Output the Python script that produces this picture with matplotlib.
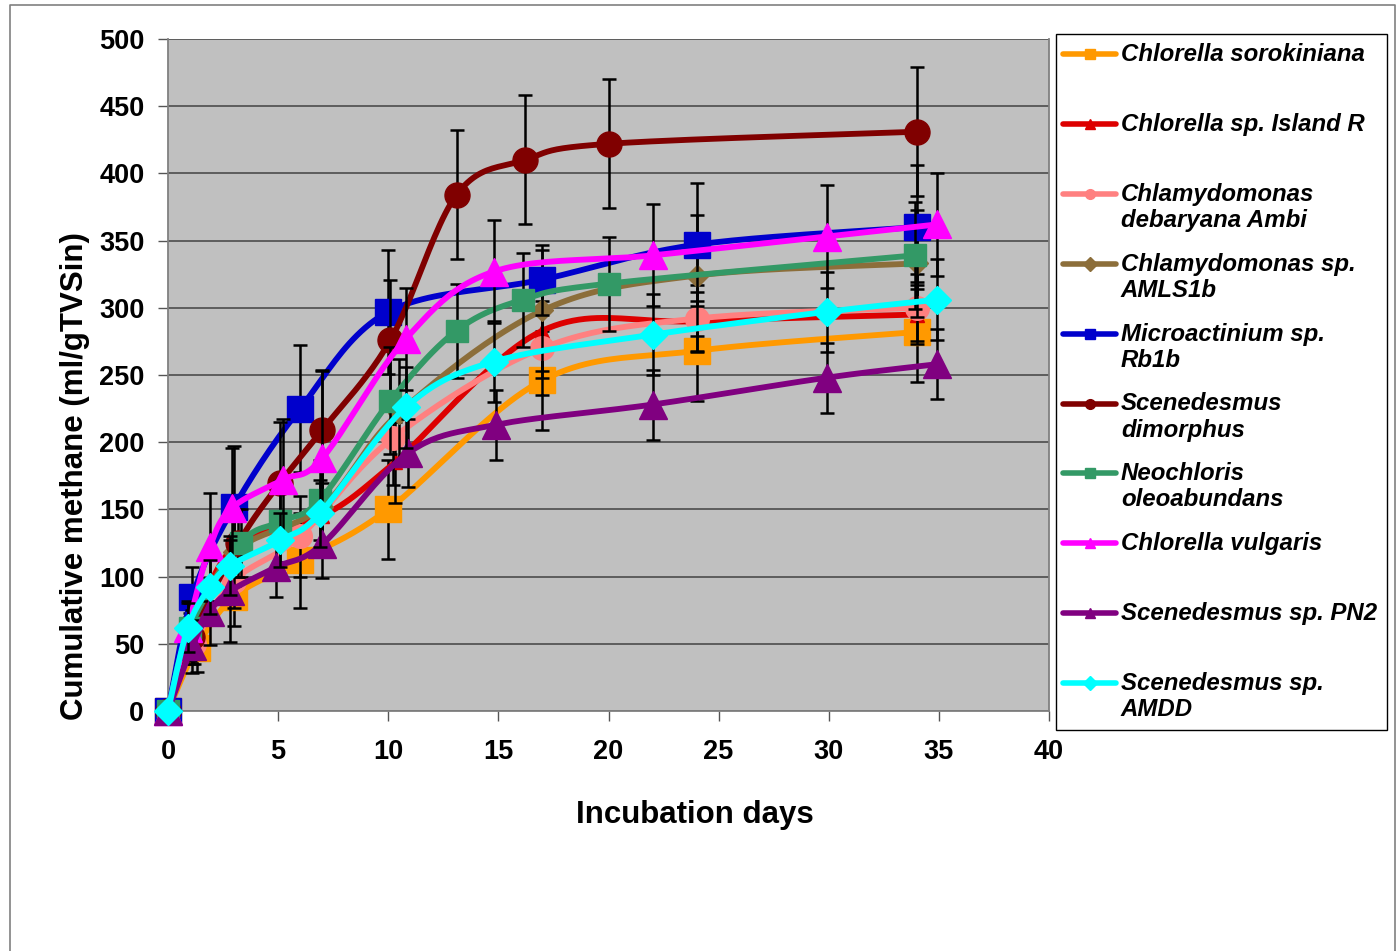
import numpy as np
import matplotlib
matplotlib.use("Agg")
from matplotlib import pyplot as plt
from matplotlib.lines import Line2D
from matplotlib.patches import Rectangle

plt.rcParams['font.family'] = ['Liberation Sans', 'DejaVu Sans']

# --- data ---
labels = ['Chlorella sorokiniana', 'Chlorella sp. Island R', 'Chlamydomonas\ndebaryana Ambi',
          'Chlamydomonas sp.\nAMLS1b', 'Microactinium sp.\nRb1b', 'Scenedesmus\ndimorphus',
          'Neochloris\noleoabundans', 'Chlorella vulgaris', 'Scenedesmus sp. PN2',
          'Scenedesmus sp.\nAMDD']
colors = ['#FF9900', '#DD0000', '#FF8080', '#8C6E3A', '#0000CC', '#800000',
          '#339966', '#FF00FF', '#800080', '#00FFFF']
markers = ['s', '^', 'o', 'D', 's', 'o', 's', '^', '^', 'D']
msizes = [19, 10, 17, 11, 19, 18, 16, 20, 20, 14]

sorok_days = [0, 1.3, 3, 6, 10, 17, 24, 34]
sorok_vals = [0, 47, 85, 112, 150, 246, 268, 282]
sorok_err = [0, 18, 22, 35, 37, 37, 37, 37]

island_days = [0, 1, 3, 7, 10.3, 17, 24, 34]
island_vals = [0, 55, 122, 145, 185, 283, 290, 295]
island_err = [0, 15, 20, 25, 30, 35, 22, 22]

debar_days = [0, 1.2, 3, 6, 10.2, 17, 24, 34]
debar_vals = [0, 50, 97, 130, 203, 270, 292, 300]
debar_err = [0, 15, 20, 30, 35, 35, 25, 25]

amls_days = [0, 1, 3, 7, 10.5, 17, 24, 34]
amls_vals = [0, 55, 118, 152, 222, 298, 324, 333]
amls_err = [0, 18, 25, 30, 40, 45, 45, 40]

micro_days = [0, 1.1, 3, 6, 10, 17, 24, 34]
micro_vals = [0, 85, 152, 225, 297, 321, 347, 360]
micro_err = [0, 22, 45, 47, 46, 26, 46, 46]

dimor_days = [0, 1.1, 3.2, 5.1, 7, 10.1, 13.1, 16.2, 20, 34]
dimor_vals = [0, 55, 125, 170, 209, 276, 384, 410, 422, 431]
dimor_err = [0, 20, 25, 45, 45, 45, 48, 48, 48, 48]

neo_days = [0, 1, 3.3, 5.1, 6.9, 10.1, 13.1, 16.1, 20, 33.9]
neo_vals = [0, 62, 125, 141, 157, 231, 283, 306, 318, 339]
neo_err = [0, 18, 25, 30, 30, 40, 35, 35, 35, 40]

vulg_days = [0, 0.9, 1.9, 2.9, 5.2, 7, 10.8, 14.8, 22, 29.9, 34.9]
vulg_vals = [0, 62, 122, 151, 172, 188, 277, 327, 339, 353, 362]
vulg_err = [0, 20, 40, 45, 45, 65, 38, 38, 38, 38, 38]

pn2_days = [0, 1.1, 1.9, 2.8, 4.9, 7, 10.9, 14.9, 22, 29.9, 34.9]
pn2_vals = [0, 48, 74, 89, 107, 124, 192, 213, 228, 248, 258]
pn2_err = [0, 20, 25, 38, 22, 25, 25, 26, 26, 26, 26]

amdd_days = [0, 0.9, 1.9, 2.8, 5.1, 6.9, 10.8, 14.8, 22, 29.9, 34.9]
amdd_vals = [0, 62, 92, 108, 127, 147, 226, 260, 280, 297, 306]
amdd_err = [0, 18, 20, 22, 20, 25, 30, 30, 30, 30, 30]

all_days = [sorok_days, island_days, debar_days, amls_days, micro_days,
            dimor_days, neo_days, vulg_days, pn2_days, amdd_days]
all_vals = [sorok_vals, island_vals, debar_vals, amls_vals, micro_vals,
            dimor_vals, neo_vals, vulg_vals, pn2_vals, amdd_vals]
all_err = [sorok_err, island_err, debar_err, amls_err, micro_err,
           dimor_err, neo_err, vulg_err, pn2_err, amdd_err]


def smooth(x, y, n=25):
    # bezier smoothing through the points, like the spreadsheet "smoothed line"
    pts = np.column_stack([x, y]).astype(float)
    out = [pts[0]]
    t = np.linspace(0, 1, n)[1:, None]
    for i in range(len(pts) - 1):
        p0 = pts[i - 1] if i > 0 else pts[i]
        p1, p2 = pts[i], pts[i + 1]
        p3 = pts[i + 2] if i + 2 < len(pts) else pts[i + 1]
        c1 = p1 + (p2 - p0) / 6
        c2 = p2 - (p3 - p1) / 6
        seg = (1 - t)**3 * p1 + 3 * (1 - t)**2 * t * c1 + 3 * (1 - t) * t**2 * c2 + t**3 * p2
        out.extend(seg)
    out = np.array(out)
    return out[:, 0], out[:, 1]


W, H = 1398, 951
fig = plt.figure(figsize=(W / 100, H / 100), dpi=100)
fig.patch.set_facecolor('white')


def fx(px):
    return px / W


def fy(py):
    return 1 - py / H


ax = fig.add_axes([fx(168), fy(711), fx(1049) - fx(168), fy(39) - fy(711)])
ax.set_facecolor('#C0C0C0')

for i in range(len(labels)):
    d, v, e = all_days[i], all_vals[i], all_err[i]
    ax.errorbar(d, v, yerr=e, fmt='none', ecolor='black', elinewidth=1.8,
                capsize=5, capthick=1.8, zorder=3 + 2 * i)
    sx, sy = smooth(d, v)
    ax.plot(sx, sy, color=colors[i], lw=4.2, zorder=4 + 2 * i, solid_capstyle='round')
    ax.plot(d, v, ls='none', marker=markers[i], ms=msizes[i], color=colors[i],
            mec=colors[i], zorder=4 + 2 * i, clip_on=False)

ax.set_xlim(0, 40)
ax.set_ylim(0, 500)
ax.set_xticks(range(0, 41, 5))
ax.set_yticks(range(0, 501, 50))
ax.yaxis.grid(True, color='#555555', lw=1.3)
ax.set_axisbelow(True)
ax.tick_params(direction='out', length=7, width=1, color='#555555', labelsize=19.5)
ax.tick_params(axis='x', pad=13)
ax.tick_params(axis='y', pad=10)
for lab in ax.get_xticklabels() + ax.get_yticklabels():
    lab.set_fontweight('bold')
for s in ax.spines.values():
    s.set_color('#808080')
    s.set_linewidth(1.3)
ax.spines['top'].set_visible(False)

fig.text(fx(695), fy(815), 'Incubation days', ha='center', va='center',
         fontsize=22.5, fontweight='bold')
fig.text(fx(75), fy(476), 'Cumulative methane (ml/gTVSin)', ha='center', va='center',
         rotation=90, fontsize=22.5, fontweight='bold')

# legend drawn by hand to keep the spreadsheet spacing
fig.add_artist(Rectangle((fx(1056), fy(730)), fx(1387) - fx(1056), fy(34) - fy(730),
                         transform=fig.transFigure, fill=False, edgecolor='black', lw=1))
for i in range(len(labels)):
    yy = 54 + 69.9 * i
    fig.add_artist(Line2D([fx(1063), fx(1116)], [fy(yy), fy(yy)], color=colors[i], lw=4,
                          solid_capstyle='round', transform=fig.transFigure))
    fig.add_artist(Line2D([fx(1089.5)], [fy(yy)], color=colors[i], marker=markers[i], ms=7,
                          transform=fig.transFigure))
    fig.text(fx(1121), fy(yy - 11), labels[i], ha='left', va='top', fontsize=17.3,
             fontweight='bold', style='italic', linespacing=1.17)

# outer chart border
fig.add_artist(Line2D([fx(10), fx(10), fx(1395), fx(1395)], [0, fy(5), fy(5), 0],
                      color='#808080', lw=1.2, transform=fig.transFigure))

fig.savefig('out.png', dpi=100)
